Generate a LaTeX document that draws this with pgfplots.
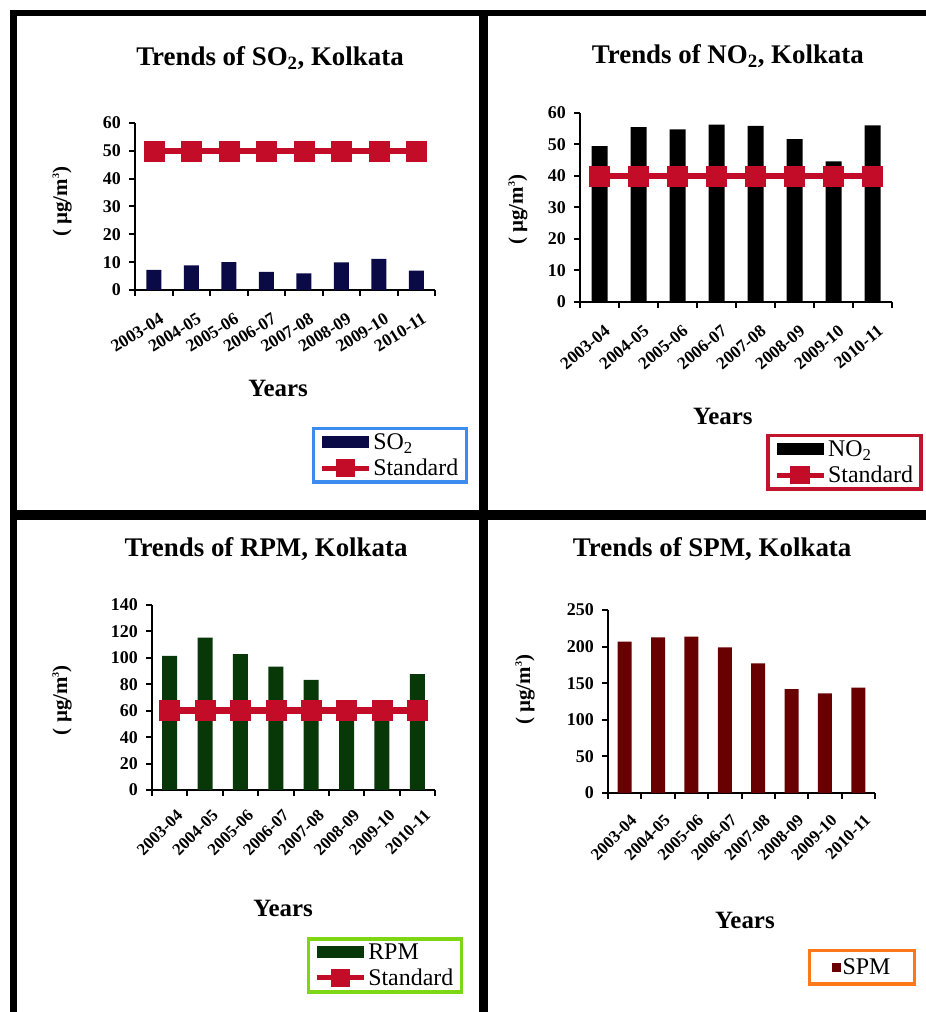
\documentclass[border=0pt]{standalone}
\usepackage{pgfplots}
\pgfplotsset{compat=1.18}
\usepackage{fontspec}
\setmainfont{Liberation Serif}

\definecolor{so2}{RGB}{10,10,70}
\definecolor{rpm}{RGB}{8,55,8}
\definecolor{spm}{RGB}{105,0,0}
\definecolor{std}{RGB}{195,12,40}
\definecolor{lblue}{RGB}{60,140,240}
\definecolor{lred}{RGB}{195,20,45}
\definecolor{lgreen}{RGB}{125,215,20}
\definecolor{lorange}{RGB}{255,120,25}

\newcommand{\smallsup}[1]{\raisebox{0.85ex}{\fontsize{10}{10}\selectfont #1}}

\pgfplotsset{
 panel/.style={
  scale only axis, anchor=south west,
  axis lines=left, axis line style={-, line width=2.5bp, black},
  xmin=0.5, xmax=8.5, ymin=0, enlargelimits=false,
  xtick={1,...,8},
  xticklabels={2003-04,2004-05,2005-06,2006-07,2007-08,2008-09,2009-10,2010-11},
  minor xtick={0.5,1.5,...,8.5},
  major x tick style={draw=none},
  minor x tick style={black, line width=2bp},
  ytick style={black, line width=2bp},
  tick align=outside, major tick length=6bp, minor tick length=6bp,
  /pgf/number format/assume math mode=true,
  yticklabel style={font=\fontsize{18}{18}\selectfont\bfseries, inner sep=0pt, xshift=-8bp},
  title style={font=\fontsize{27}{27}\selectfont\bfseries, anchor=center},
  xlabel style={font=\fontsize{25}{25}\selectfont\bfseries, anchor=center},
  ylabel style={font=\fontsize{21}{21}\selectfont\bfseries, anchor=center},
  ylabel={( µg/m\smallsup{3})}, xlabel={Years},
  legend style={font=\fontsize{24}{25}\selectfont, line width=3.5bp, anchor=north east,
     cells={anchor=west}, inner xsep=6bp, inner ysep=3bp, row sep=4bp},
  legend cell align=left,
 },
 stdline/.style={std, line width=6.5bp, mark=square*, mark size=10bp,
   mark options={solid, fill=std, line width=0.5bp},
   legend image code/.code={\draw[std, line width=5bp] (0bp,0bp) -- (47bp,0bp);
     \fill[std] (17bp,-6bp) rectangle (30bp,6bp);}},
}

\begin{document}
\begin{tikzpicture}[x=1bp,y=1bp]
\useasboundingbox (0,0) rectangle (926,1012);

% SO2
\begin{axis}[panel, at={(135bp,722bp)}, width=300bp, height=167bp, ymax=60, ytick={0,10,...,60},
  xticklabel style={font=\fontsize{17.5}{17.5}\selectfont\bfseries, inner sep=0pt, xshift=5bp, yshift=-16bp, rotate=32, anchor=north east},
  title={Trends of SO\textsubscript{2}, Kolkata}, title style={at={(axis description cs:0.45,1.353)}},
  xlabel style={at={(axis description cs:0.477,-0.587)}},
  ylabel style={at={(axis description cs:-0.243,0.527)}},
  legend style={draw=lblue, at={(axis description cs:1.11,-0.82)}}]
\addplot[ybar, bar width=15bp, fill=so2, draw=none,
  legend image code/.code={\fill[so2] (0bp,-6bp) rectangle (47bp,6bp);}]
  coordinates {(1,7.2) (2,8.8) (3,10) (4,6.5) (5,6) (6,9.9) (7,11.2) (8,7)};
\addlegendentry{SO\textsubscript{2}}
\addplot[stdline] coordinates {(1,50) (2,50) (3,50) (4,50) (5,50) (6,50) (7,50) (8,50)};
\addlegendentry{Standard}
\end{axis}

% NO2
\begin{axis}[panel, at={(580bp,710bp)}, width=312bp, height=189bp, ymax=60, ytick={0,10,...,60},
  xticklabel style={font=\fontsize{17.5}{17.5}\selectfont\bfseries, inner sep=0pt, xshift=4bp, yshift=-16bp, rotate=40, anchor=north east},
  title={Trends of NO\textsubscript{2}, Kolkata}, title style={at={(axis description cs:0.474,1.27)}},
  xlabel style={at={(axis description cs:0.458,-0.608)}},
  ylabel style={at={(axis description cs:-0.199,0.487)}},
  legend style={draw=lred, at={(axis description cs:1.099,-0.698)}}]
\addplot[ybar, bar width=16bp, fill=black, draw=none,
  legend image code/.code={\fill[black] (0bp,-6bp) rectangle (47bp,6bp);}]
  coordinates {(1,49.5) (2,55.5) (3,54.8) (4,56.3) (5,55.9) (6,51.7) (7,44.6) (8,56.1)};
\addlegendentry{NO\textsubscript{2}}
\addplot[stdline] coordinates {(1,40) (2,40) (3,40) (4,40) (5,40) (6,40) (7,40) (8,40)};
\addlegendentry{Standard}
\end{axis}

% RPM
\begin{axis}[panel, at={(152bp,222bp)}, width=283bp, height=185bp, ymax=140, ytick={0,20,...,140},
  xticklabel style={font=\fontsize{17}{17}\selectfont\bfseries, inner sep=0pt, xshift=6bp, yshift=-12bp, rotate=45, anchor=north east},
  title={Trends of RPM, Kolkata}, title style={at={(axis description cs:0.403,1.27)}},
  xlabel style={at={(axis description cs:0.463,-0.638)}},
  ylabel style={at={(axis description cs:-0.318,0.486)}},
  legend style={draw=lgreen, at={(axis description cs:1.099,-0.795)}}]
\addplot[ybar, bar width=15bp, fill=rpm, draw=none,
  legend image code/.code={\fill[rpm] (0bp,-6bp) rectangle (47bp,6bp);}]
  coordinates {(1,101.5) (2,115.4) (3,102.8) (4,93.4) (5,83.3) (6,63) (7,62) (8,87.6)};
\addlegendentry{RPM}
\addplot[stdline] coordinates {(1,60) (2,60) (3,60) (4,60) (5,60) (6,60) (7,60) (8,60)};
\addlegendentry{Standard}
\end{axis}

% SPM
\begin{axis}[panel, at={(608bp,219bp)}, width=267bp, height=183bp, ymax=250, ytick={0,50,...,250},
  xticklabel style={font=\fontsize{17}{17}\selectfont\bfseries, inner sep=0pt, xshift=5bp, yshift=-14bp, rotate=45, anchor=north east},
  title={Trends of SPM, Kolkata}, title style={at={(axis description cs:0.39,1.301)}},
  xlabel style={at={(axis description cs:0.513,-0.699)}},
  ylabel style={at={(axis description cs:-0.311,0.563)}},
  legend style={draw=lorange, at={(axis description cs:1.154,-0.852)}, inner xsep=22bp, inner ysep=6bp}]
\addplot[ybar, bar width=14bp, fill=spm, draw=none,
  legend image code/.code={\fill[spm] (0bp,-4.5bp) rectangle (9bp,4.5bp);}]
  coordinates {(1,206.8) (2,212.7) (3,213.6) (4,199) (5,177) (6,142) (7,136) (8,144)};
\addlegendentry{SPM}
\end{axis}

% panel frames
\draw[line width=6.5bp] (10,999) -- (926,999);
\draw[line width=6.5bp] (13.5,1002) -- (13.5,0);
\draw[line width=9bp] (483.5,999) -- (483.5,0);
\draw[line width=10bp] (13.5,497) -- (926,497);
\end{tikzpicture}
\end{document}
